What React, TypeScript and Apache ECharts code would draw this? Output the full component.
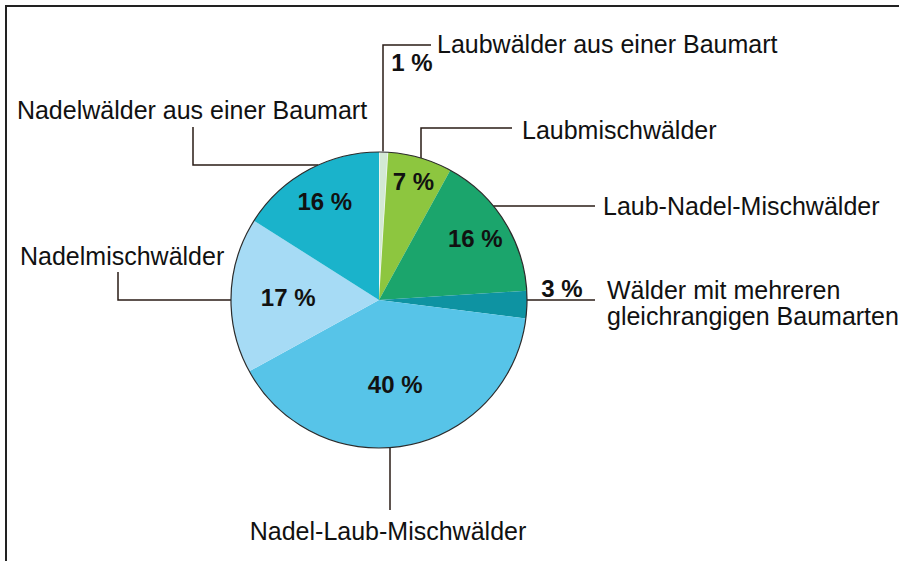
import React, { useEffect, useRef } from "react";
import * as echarts from "echarts";

// ---- data ----
const categories = [
  "Laubwälder aus einer Baumart",
  "Laubmischwälder",
  "Laub-Nadel-Mischwälder",
  "Wälder mit mehreren\ngleichrangigen Baumarten",
  "Nadel-Laub-Mischwälder",
  "Nadelmischwälder",
  "Nadelwälder aus einer Baumart",
];
const shares = [1, 7, 16, 3, 40, 17, 16];
const sliceColors = ["#d3e9d4", "#8dc63f", "#1ba56c", "#0e93a2", "#57c4e8", "#a6dbf5", "#1ab3cb"];

// ---- layout (positions / styles) ----
const W = 899;
const H = 561;
const CX = 379;
const CY = 300;
const R = 148;
const FONT = "'Liberation Sans', Arial, Helvetica, sans-serif";
const LINE_COLOR = "#2a1c16";

// radial fraction of each inside percent label (relative to radius)
const pctFrac = [0, 0.8, 0.74, 0, 0.56, 0.59, 0.73];
// percent labels placed outside the pie
const pctOutside: Record<number, [number, number]> = { 0: [412, 62], 3: [562, 288] };

type Leader = {
  dir: "up" | "down" | "left" | "right";
  at: number;
  turn?: number;
  end: number;
  lx: number;
  ly: number;
  align: "left" | "center";
};
const leaders: Leader[] = [
  { dir: "up", at: 383, turn: 45, end: 431, lx: 437, ly: 44, align: "left" },
  { dir: "up", at: 421, turn: 128, end: 512, lx: 522, ly: 130, align: "left" },
  { dir: "right", at: 206, end: 595, lx: 603, ly: 206, align: "left" },
  { dir: "right", at: 300, end: 595, lx: 607, ly: 303, align: "left" },
  { dir: "down", at: 390, end: 510, lx: 388, ly: 531, align: "center" },
  { dir: "left", at: 300, turn: 118, end: 272, lx: 20, ly: 256, align: "left" },
  { dir: "left", at: 165, turn: 193, end: 127, lx: 192, ly: 110, align: "center" },
];

const half = (d: number) => Math.sqrt(Math.max(0, R * R - d * d));

function leaderPoints(l: Leader): number[][] {
  switch (l.dir) {
    case "up":
      return [[l.at, CY - half(l.at - CX)], [l.at, l.turn!], [l.end, l.turn!]];
    case "down":
      return [[l.at, CY + half(l.at - CX)], [l.at, l.end], [l.at, l.end]];
    case "right":
      return [[CX + half(l.at - CY), l.at], [l.end, l.at], [l.end, l.at]];
    case "left":
    default:
      return [[CX - half(l.at - CY), l.at], [l.turn!, l.at], [l.turn!, l.end]];
  }
}

export default function App() {
  const ref = useRef<HTMLDivElement>(null);

  useEffect(() => {
    document.body.style.margin = "0";
    if (!ref.current) return;
    const chart = echarts.init(ref.current, undefined, { renderer: "svg" });

    const data = categories.map((name, i) => ({
      name,
      value: shares[i],
      itemStyle: { color: sliceColors[i] },
    }));

    chart.setOption({
      animation: false,
      backgroundColor: "#ffffff",
      graphic: [
        {
          type: "rect",
          shape: { x: 6, y: 6, width: 1200, height: 1200 },
          style: { fill: "none", stroke: "#222222", lineWidth: 2 },
          silent: true,
          z: 100,
        },
      ],
      series: [
        {
          type: "pie",
          center: [CX, CY],
          radius: [0, R],
          startAngle: 90,
          clockwise: true,
          silent: true,
          avoidLabelOverlap: false,
          itemStyle: { borderWidth: 0 },
          data: data.map((d, i) =>
            i === 0 ? { ...d, itemStyle: { color: sliceColors[0], borderColor: "#f2f9f2", borderWidth: 1.5 } } : d
          ),
          label: {
            show: true,
            position: "inside",
            formatter: (p: any) => `${p.value} %`,
            fontFamily: FONT,
            fontSize: 24,
            fontWeight: "bold",
            color: "#111111",
            textBorderWidth: 0,
            width: 200,
            overflow: "none",
          },
          labelLine: { show: false },
          labelLayout: (params: any) => {
            const i = params.dataIndex;
            if (pctOutside[i]) {
              const [x, y] = pctOutside[i];
              return { x, y, align: "center", verticalAlign: "middle" };
            }
            const rc = params.labelRect;
            const mx = rc.x + rc.width / 2;
            const my = rc.y + rc.height / 2;
            const k = pctFrac[i] / 0.5;
            return {
              x: CX + (mx - CX) * k,
              y: CY + (my - CY) * k,
              align: "center",
              verticalAlign: "middle",
            };
          },
        },
        {
          type: "pie",
          center: [CX, CY],
          radius: [0, R],
          startAngle: 90,
          clockwise: true,
          silent: true,
          avoidLabelOverlap: false,
          itemStyle: { color: "rgba(0,0,0,0)", borderWidth: 0 },
          data: categories.map((name, i) => ({ name, value: shares[i] })),
          label: {
            show: true,
            position: "outside",
            formatter: "{b}",
            fontFamily: FONT,
            fontSize: 25,
            lineHeight: 26,
            color: "#111111",
            width: 500,
            overflow: "none",
            textBorderWidth: 0,
          },
          labelLine: {
            show: true,
            length: 10,
            length2: 10,
            lineStyle: { color: LINE_COLOR, width: 1.5 },
          },
          labelLayout: (params: any) => {
            const l = leaders[params.dataIndex];
            return {
              x: l.lx,
              y: l.ly,
              align: l.align,
              verticalAlign: "middle",
              labelLinePoints: leaderPoints(l),
            };
          },
        },
        {
          type: "pie",
          center: [CX, CY],
          radius: [0, R],
          silent: true,
          label: { show: false },
          labelLine: { show: false },
          itemStyle: { color: "rgba(0,0,0,0)", borderColor: "#2b2b2b", borderWidth: 1.2 },
          data: [{ name: "outline", value: 1 }],
        },
      ],
    });

    return () => chart.dispose();
  }, []);

  return <div ref={ref} style={{ width: W, height: H }} />;
}
